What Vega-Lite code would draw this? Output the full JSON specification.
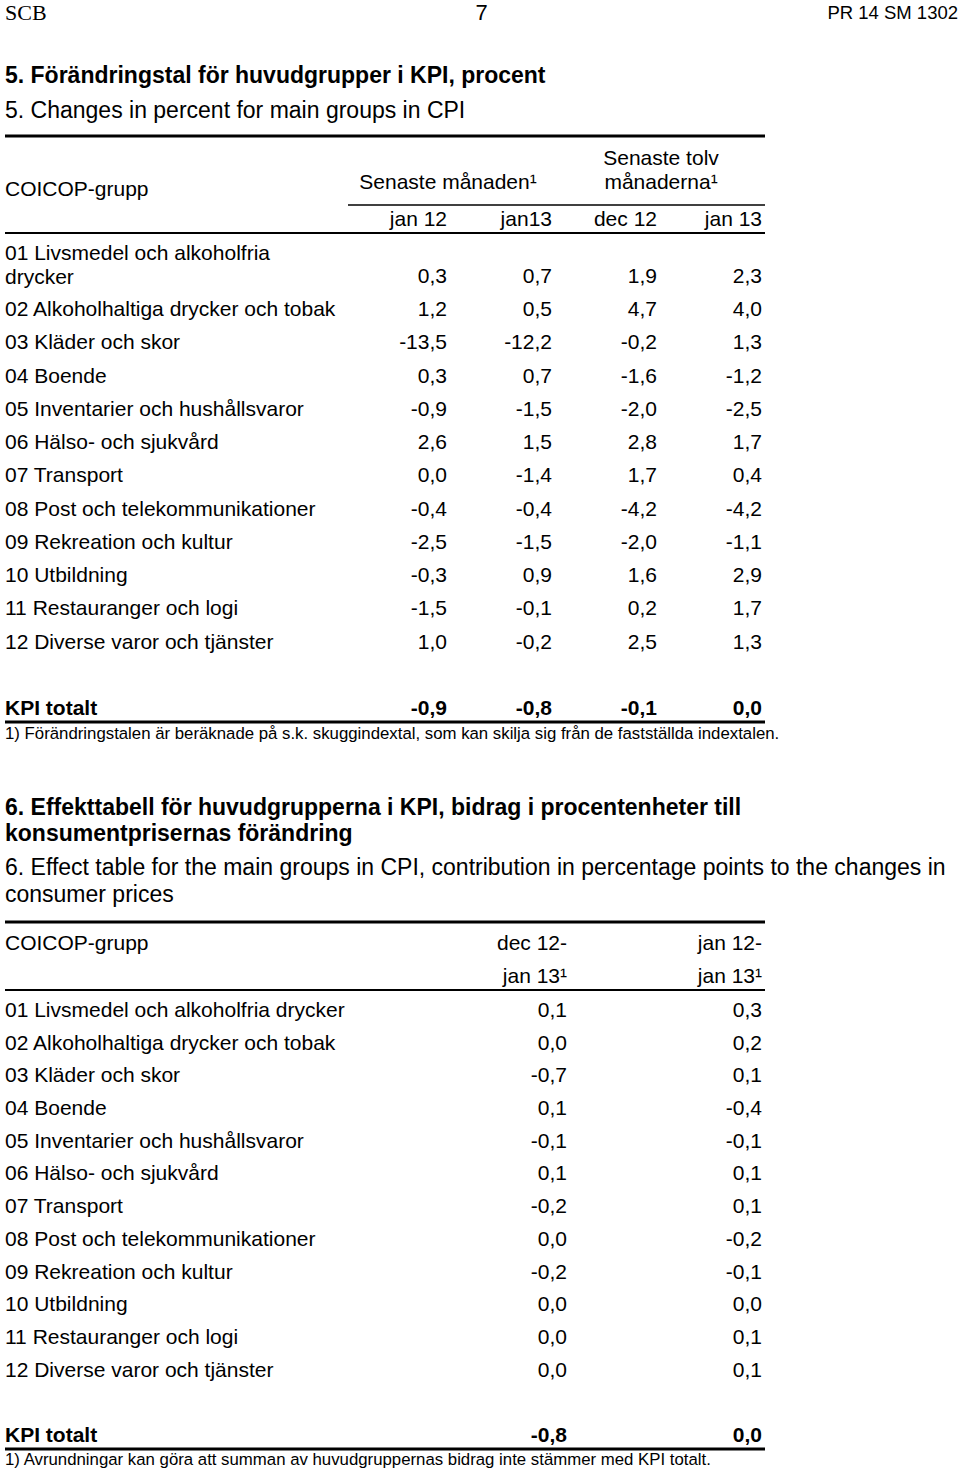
{
  "$schema": "https://vega.github.io/schema/vega-lite/v6.json",
  "width": 960,
  "height": 1474,
  "autosize": {"type": "none"},
  "padding": 0,
  "background": "#ffffff",
  "config": {
    "view": {"stroke": null},
    "locale": {"number": {"decimal": ",", "thousands": " ", "grouping": [3], "currency": ["", ""], "minus": "-"}},
    "text": {"font": "Liberation Sans", "fontSize": 21, "color": "#000000"},
    "rule": {"color": "#000000"}
  },
  "datasets": {
    "sidhuvud": [
      {"pos": "vänster", "text": "SCB"},
      {"pos": "mitt", "text": "7"},
      {"pos": "höger", "text": "PR 14 SM 1302"}
    ],
    "rubriker": [
      {"tabell": "5", "sv": "5. Förändringstal för huvudgrupper i KPI, procent", "en": "5. Changes in percent for main groups in CPI"},
      {"tabell": "6", "sv": "6. Effekttabell för huvudgrupperna i KPI, bidrag i procentenheter till\nkonsumentprisernas förändring", "en": "6. Effect table for the main groups in CPI, contribution in percentage points to the changes in\nconsumer prices"}
    ],
    "linjer": [
      {"linje": "t5 topp"}, {"linje": "t5 rubrikgrupp"}, {"linje": "t5 rubrik"}, {"linje": "t5 botten"},
      {"linje": "t6 topp"}, {"linje": "t6 rubrik"}, {"linje": "t6 botten"}
    ],
    "t5rubrik": [
      {"rad": "1", "kol": "tolv", "text": "Senaste tolv"},
      {"rad": "2", "kol": "tolv", "text": "månaderna¹"},
      {"rad": "2", "kol": "månaden", "text": "Senaste månaden¹"}
    ],
    "t6rubrik": [
      {"rad": "1", "kol": "dec 12-jan 13", "text": "dec 12-"},
      {"rad": "2", "kol": "dec 12-jan 13", "text": "jan 13¹"},
      {"rad": "1", "kol": "jan 12-jan 13", "text": "jan 12-"},
      {"rad": "2", "kol": "jan 12-jan 13", "text": "jan 13¹"}
    ],
    "grupprubrik": [
      {"tabell": "5", "text": "COICOP-grupp"},
      {"tabell": "6", "text": "COICOP-grupp"}
    ],
    "fotnoter": [
      {"tabell": "5", "text": "1) Förändringstalen är beräknade på s.k. skuggindextal, som kan skilja sig från de fastställda indextalen."},
      {"tabell": "6", "text": "1) Avrundningar kan göra att summan av huvudgruppernas bidrag inte stämmer med KPI totalt."}
    ],
    "t5": [
      {"grp": "01 Livsmedel och alkoholfria\ndrycker", "jan 12": 0.3, "jan13": 0.7, "dec 12": 1.9, "jan 13": 2.3},
      {"grp": "02 Alkoholhaltiga drycker och tobak", "jan 12": 1.2, "jan13": 0.5, "dec 12": 4.7, "jan 13": 4.0},
      {"grp": "03 Kläder och skor", "jan 12": -13.5, "jan13": -12.2, "dec 12": -0.2, "jan 13": 1.3},
      {"grp": "04 Boende", "jan 12": 0.3, "jan13": 0.7, "dec 12": -1.6, "jan 13": -1.2},
      {"grp": "05 Inventarier och hushållsvaror", "jan 12": -0.9, "jan13": -1.5, "dec 12": -2.0, "jan 13": -2.5},
      {"grp": "06 Hälso- och sjukvård", "jan 12": 2.6, "jan13": 1.5, "dec 12": 2.8, "jan 13": 1.7},
      {"grp": "07 Transport", "jan 12": 0.0, "jan13": -1.4, "dec 12": 1.7, "jan 13": 0.4},
      {"grp": "08 Post och telekommunikationer", "jan 12": -0.4, "jan13": -0.4, "dec 12": -4.2, "jan 13": -4.2},
      {"grp": "09 Rekreation och kultur", "jan 12": -2.5, "jan13": -1.5, "dec 12": -2.0, "jan 13": -1.1},
      {"grp": "10 Utbildning", "jan 12": -0.3, "jan13": 0.9, "dec 12": 1.6, "jan 13": 2.9},
      {"grp": "11 Restauranger och logi", "jan 12": -1.5, "jan13": -0.1, "dec 12": 0.2, "jan 13": 1.7},
      {"grp": "12 Diverse varor och tjänster", "jan 12": 1.0, "jan13": -0.2, "dec 12": 2.5, "jan 13": 1.3},
      {"grp": "KPI totalt", "jan 12": -0.9, "jan13": -0.8, "dec 12": -0.1, "jan 13": 0.0}
    ],
    "t6": [
      {"grp": "01 Livsmedel och alkoholfria drycker", "dec 12-jan 13": 0.1, "jan 12-jan 13": 0.3},
      {"grp": "02 Alkoholhaltiga drycker och tobak", "dec 12-jan 13": 0.0, "jan 12-jan 13": 0.2},
      {"grp": "03 Kläder och skor", "dec 12-jan 13": -0.7, "jan 12-jan 13": 0.1},
      {"grp": "04 Boende", "dec 12-jan 13": 0.1, "jan 12-jan 13": -0.4},
      {"grp": "05 Inventarier och hushållsvaror", "dec 12-jan 13": -0.1, "jan 12-jan 13": -0.1},
      {"grp": "06 Hälso- och sjukvård", "dec 12-jan 13": 0.1, "jan 12-jan 13": 0.1},
      {"grp": "07 Transport", "dec 12-jan 13": -0.2, "jan 12-jan 13": 0.1},
      {"grp": "08 Post och telekommunikationer", "dec 12-jan 13": 0.0, "jan 12-jan 13": -0.2},
      {"grp": "09 Rekreation och kultur", "dec 12-jan 13": -0.2, "jan 12-jan 13": -0.1},
      {"grp": "10 Utbildning", "dec 12-jan 13": 0.0, "jan 12-jan 13": 0.0},
      {"grp": "11 Restauranger och logi", "dec 12-jan 13": 0.0, "jan 12-jan 13": 0.1},
      {"grp": "12 Diverse varor och tjänster", "dec 12-jan 13": 0.0, "jan 12-jan 13": 0.1},
      {"grp": "KPI totalt", "dec 12-jan 13": -0.8, "jan 12-jan 13": 0.0}
    ]
  },
  "resolve": {"scale": {"x": "independent", "y": "independent"}},
  "layer": [
    {
      "data": {"name": "sidhuvud"},
      "transform": [{"filter": "datum.pos === 'vänster'"}],
      "mark": {"type": "text", "align": "left", "baseline": "middle", "font": "Liberation Serif", "fontSize": 22},
      "encoding": {
        "x": {"field": "pos", "type": "nominal", "scale": {"type": "point", "domain": ["vänster", "mitt", "höger"], "range": [5, 958], "padding": 0}, "axis": null},
        "y": {"datum": "sidhuvud", "type": "nominal", "scale": {"type": "point", "domain": ["sidhuvud"], "range": [13, 13]}, "axis": null},
        "text": {"field": "text"}
      }
    },
    {
      "data": {"name": "sidhuvud"},
      "transform": [{"filter": "datum.pos === 'mitt'"}],
      "mark": {"type": "text", "align": "center", "baseline": "middle", "fontSize": 22},
      "encoding": {
        "x": {"field": "pos", "type": "nominal", "scale": {"type": "point", "domain": ["vänster", "mitt", "höger"], "range": [5, 958], "padding": 0}, "axis": null},
        "y": {"datum": "sidhuvud", "type": "nominal", "scale": {"type": "point", "domain": ["sidhuvud"], "range": [13, 13]}, "axis": null},
        "text": {"field": "text"}
      }
    },
    {
      "data": {"name": "sidhuvud"},
      "transform": [{"filter": "datum.pos === 'höger'"}],
      "mark": {"type": "text", "align": "right", "baseline": "middle", "fontSize": 18.5},
      "encoding": {
        "x": {"field": "pos", "type": "nominal", "scale": {"type": "point", "domain": ["vänster", "mitt", "höger"], "range": [5, 958], "padding": 0}, "axis": null},
        "y": {"datum": "sidhuvud", "type": "nominal", "scale": {"type": "point", "domain": ["sidhuvud"], "range": [13, 13]}, "axis": null},
        "text": {"field": "text"}
      }
    },
    {
      "data": {"name": "rubriker"},
      "mark": {"type": "text", "align": "left", "baseline": "alphabetic", "fontWeight": "bold", "fontSize": 23, "lineBreak": "\n", "lineHeight": 26},
      "encoding": {
        "x": {"datum": "vänsterkant", "type": "nominal", "scale": {"type": "point", "domain": ["vänsterkant"], "range": [5, 5]}, "axis": null},
        "y": {"field": "tabell", "type": "nominal", "scale": {"type": "point", "domain": ["5", "6"], "range": [83, 815], "padding": 0}, "axis": null},
        "text": {"field": "sv"}
      }
    },
    {
      "data": {"name": "rubriker"},
      "mark": {"type": "text", "align": "left", "baseline": "alphabetic", "fontSize": 23, "lineBreak": "\n", "lineHeight": 27},
      "encoding": {
        "x": {"datum": "vänsterkant", "type": "nominal", "scale": {"type": "point", "domain": ["vänsterkant"], "range": [5, 5]}, "axis": null},
        "y": {"field": "tabell", "type": "nominal", "scale": {"type": "point", "domain": ["5", "6"], "range": [118, 875], "padding": 0}, "axis": null},
        "text": {"field": "en"}
      }
    },
    {
      "data": {"name": "linjer"},
      "transform": [{"filter": "datum.linje === 't5 topp' || datum.linje === 't5 botten'"}],
      "mark": {"type": "rule", "strokeWidth": 3},
      "encoding": {
        "x": {"datum": "vänster", "type": "nominal", "scale": {"type": "point", "domain": ["vänster", "höger"], "range": [5, 765], "padding": 0}, "axis": null},
        "x2": {"datum": "höger"},
        "y": {"field": "linje", "type": "nominal", "scale": {"type": "point", "domain": ["t5 topp", "t5 botten"], "range": [136, 722], "padding": 0}, "axis": null}
      }
    },
    {
      "data": {"name": "linjer"},
      "transform": [{"filter": "datum.linje === 't6 topp' || datum.linje === 't6 botten'"}],
      "mark": {"type": "rule", "strokeWidth": 3},
      "encoding": {
        "x": {"datum": "vänster", "type": "nominal", "scale": {"type": "point", "domain": ["vänster", "höger"], "range": [5, 765], "padding": 0}, "axis": null},
        "x2": {"datum": "höger"},
        "y": {"field": "linje", "type": "nominal", "scale": {"type": "point", "domain": ["t6 topp", "t6 botten"], "range": [922, 1449], "padding": 0}, "axis": null}
      }
    },
    {
      "data": {"name": "linjer"},
      "transform": [{"filter": "datum.linje === 't5 rubrik' || datum.linje === 't6 rubrik'"}],
      "mark": {"type": "rule", "strokeWidth": 2},
      "encoding": {
        "x": {"datum": "vänster", "type": "nominal", "scale": {"type": "point", "domain": ["vänster", "höger"], "range": [5, 765], "padding": 0}, "axis": null},
        "x2": {"datum": "höger"},
        "y": {"field": "linje", "type": "nominal", "scale": {"type": "point", "domain": ["t5 rubrik", "t6 rubrik"], "range": [233, 990], "padding": 0}, "axis": null}
      }
    },
    {
      "data": {"name": "linjer"},
      "transform": [{"filter": "datum.linje === 't5 rubrikgrupp'"}],
      "mark": {"type": "rule", "strokeWidth": 1.5},
      "encoding": {
        "x": {"datum": "vänster", "type": "nominal", "scale": {"type": "point", "domain": ["vänster", "höger"], "range": [348, 765], "padding": 0}, "axis": null},
        "x2": {"datum": "höger"},
        "y": {"field": "linje", "type": "nominal", "scale": {"type": "point", "domain": ["t5 rubrikgrupp"], "range": [205, 205]}, "axis": null}
      }
    },
    {
      "data": {"name": "t5rubrik"},
      "mark": {"type": "text", "align": "center", "baseline": "middle"},
      "encoding": {
        "x": {"field": "kol", "type": "nominal", "scale": {"type": "point", "domain": ["månaden", "tolv"], "range": [448, 661], "padding": 0}, "axis": null},
        "y": {"field": "rad", "type": "nominal", "scale": {"type": "point", "domain": ["1", "2"], "range": [159, 183], "padding": 0}, "axis": null},
        "text": {"field": "text"}
      }
    },
    {
      "data": {"name": "grupprubrik"},
      "mark": {"type": "text", "align": "left", "baseline": "middle"},
      "encoding": {
        "x": {"datum": "vänsterkant", "type": "nominal", "scale": {"type": "point", "domain": ["vänsterkant"], "range": [5, 5]}, "axis": null},
        "y": {"field": "tabell", "type": "nominal", "scale": {"type": "point", "domain": ["5", "6"], "range": [190, 944], "padding": 0}, "axis": null},
        "text": {"field": "text"}
      }
    },
    {
      "data": {"name": "t5"},
      "transform": [
        {"fold": ["jan 12", "jan13", "dec 12", "jan 13"], "as": ["per", "val"]},
        {"aggregate": [{"op": "count", "as": "n"}], "groupby": ["per"]}
      ],
      "mark": {"type": "text", "align": "right", "baseline": "middle"},
      "encoding": {
        "x": {"field": "per", "type": "nominal", "scale": {"type": "point", "domain": ["jan 12", "jan13", "dec 12", "jan 13"], "range": [447, 762], "padding": 0}, "axis": null},
        "y": {"datum": "period", "type": "nominal", "scale": {"type": "point", "domain": ["period"], "range": [220, 220]}, "axis": null},
        "text": {"field": "per"}
      }
    },
    {
      "data": {"name": "t5"},
      "transform": [{"filter": "datum.grp !== 'KPI totalt' && indexof(datum.grp, '\\n') < 0"}],
      "mark": {"type": "text", "align": "left", "baseline": "middle"},
      "encoding": {
        "x": {"datum": "vänsterkant", "type": "nominal", "scale": {"type": "point", "domain": ["vänsterkant"], "range": [5, 5]}, "axis": null},
        "y": {"field": "grp", "type": "nominal", "scale": {"type": "point", "domain": ["01 Livsmedel och alkoholfria\ndrycker", "02 Alkoholhaltiga drycker och tobak", "03 Kläder och skor", "04 Boende", "05 Inventarier och hushållsvaror", "06 Hälso- och sjukvård", "07 Transport", "08 Post och telekommunikationer", "09 Rekreation och kultur", "10 Utbildning", "11 Restauranger och logi", "12 Diverse varor och tjänster", " ", "KPI totalt"], "range": [277, 709], "padding": 0}, "axis": null},
        "text": {"field": "grp"}
      }
    },
    {
      "data": {"name": "t5"},
      "transform": [{"filter": "indexof(datum.grp, '\\n') >= 0"}],
      "mark": {"type": "text", "align": "left", "baseline": "alphabetic", "lineBreak": "\n", "lineHeight": 24, "dy": -17},
      "encoding": {
        "x": {"datum": "vänsterkant", "type": "nominal", "scale": {"type": "point", "domain": ["vänsterkant"], "range": [5, 5]}, "axis": null},
        "y": {"field": "grp", "type": "nominal", "scale": {"type": "point", "domain": ["01 Livsmedel och alkoholfria\ndrycker", "02 Alkoholhaltiga drycker och tobak", "03 Kläder och skor", "04 Boende", "05 Inventarier och hushållsvaror", "06 Hälso- och sjukvård", "07 Transport", "08 Post och telekommunikationer", "09 Rekreation och kultur", "10 Utbildning", "11 Restauranger och logi", "12 Diverse varor och tjänster", " ", "KPI totalt"], "range": [277, 709], "padding": 0}, "axis": null},
        "text": {"field": "grp"}
      }
    },
    {
      "data": {"name": "t5"},
      "transform": [
        {"fold": ["jan 12", "jan13", "dec 12", "jan 13"], "as": ["per", "val"]},
        {"filter": "datum.grp !== 'KPI totalt'"}
      ],
      "mark": {"type": "text", "align": "right", "baseline": "middle"},
      "encoding": {
        "x": {"field": "per", "type": "nominal", "scale": {"type": "point", "domain": ["jan 12", "jan13", "dec 12", "jan 13"], "range": [447, 762], "padding": 0}, "axis": null},
        "y": {"field": "grp", "type": "nominal", "scale": {"type": "point", "domain": ["01 Livsmedel och alkoholfria\ndrycker", "02 Alkoholhaltiga drycker och tobak", "03 Kläder och skor", "04 Boende", "05 Inventarier och hushållsvaror", "06 Hälso- och sjukvård", "07 Transport", "08 Post och telekommunikationer", "09 Rekreation och kultur", "10 Utbildning", "11 Restauranger och logi", "12 Diverse varor och tjänster", " ", "KPI totalt"], "range": [277, 709], "padding": 0}, "axis": null},
        "text": {"field": "val", "type": "quantitative", "format": ".1f"}
      }
    },
    {
      "data": {"name": "t5"},
      "transform": [{"filter": "datum.grp === 'KPI totalt'"}],
      "mark": {"type": "text", "align": "left", "baseline": "middle", "fontWeight": "bold"},
      "encoding": {
        "x": {"datum": "vänsterkant", "type": "nominal", "scale": {"type": "point", "domain": ["vänsterkant"], "range": [5, 5]}, "axis": null},
        "y": {"field": "grp", "type": "nominal", "scale": {"type": "point", "domain": ["01 Livsmedel och alkoholfria\ndrycker", "02 Alkoholhaltiga drycker och tobak", "03 Kläder och skor", "04 Boende", "05 Inventarier och hushållsvaror", "06 Hälso- och sjukvård", "07 Transport", "08 Post och telekommunikationer", "09 Rekreation och kultur", "10 Utbildning", "11 Restauranger och logi", "12 Diverse varor och tjänster", " ", "KPI totalt"], "range": [277, 709], "padding": 0}, "axis": null},
        "text": {"field": "grp"}
      }
    },
    {
      "data": {"name": "t5"},
      "transform": [
        {"fold": ["jan 12", "jan13", "dec 12", "jan 13"], "as": ["per", "val"]},
        {"filter": "datum.grp === 'KPI totalt'"}
      ],
      "mark": {"type": "text", "align": "right", "baseline": "middle", "fontWeight": "bold"},
      "encoding": {
        "x": {"field": "per", "type": "nominal", "scale": {"type": "point", "domain": ["jan 12", "jan13", "dec 12", "jan 13"], "range": [447, 762], "padding": 0}, "axis": null},
        "y": {"field": "grp", "type": "nominal", "scale": {"type": "point", "domain": ["01 Livsmedel och alkoholfria\ndrycker", "02 Alkoholhaltiga drycker och tobak", "03 Kläder och skor", "04 Boende", "05 Inventarier och hushållsvaror", "06 Hälso- och sjukvård", "07 Transport", "08 Post och telekommunikationer", "09 Rekreation och kultur", "10 Utbildning", "11 Restauranger och logi", "12 Diverse varor och tjänster", " ", "KPI totalt"], "range": [277, 709], "padding": 0}, "axis": null},
        "text": {"field": "val", "type": "quantitative", "format": ".1f"}
      }
    },
    {
      "data": {"name": "fotnoter"},
      "mark": {"type": "text", "align": "left", "baseline": "middle", "fontSize": 16.8},
      "encoding": {
        "x": {"datum": "vänsterkant", "type": "nominal", "scale": {"type": "point", "domain": ["vänsterkant"], "range": [5, 5]}, "axis": null},
        "y": {"field": "tabell", "type": "nominal", "scale": {"type": "point", "domain": ["5", "6"], "range": [734, 1460], "padding": 0}, "axis": null},
        "text": {"field": "text"}
      }
    },
    {
      "data": {"name": "t6rubrik"},
      "mark": {"type": "text", "align": "right", "baseline": "middle"},
      "encoding": {
        "x": {"field": "kol", "type": "nominal", "scale": {"type": "point", "domain": ["dec 12-jan 13", "jan 12-jan 13"], "range": [567, 762], "padding": 0}, "axis": null},
        "y": {"field": "rad", "type": "nominal", "scale": {"type": "point", "domain": ["1", "2"], "range": [944, 977], "padding": 0}, "axis": null},
        "text": {"field": "text"}
      }
    },
    {
      "data": {"name": "t6"},
      "transform": [{"filter": "datum.grp !== 'KPI totalt'"}],
      "mark": {"type": "text", "align": "left", "baseline": "middle"},
      "encoding": {
        "x": {"datum": "vänsterkant", "type": "nominal", "scale": {"type": "point", "domain": ["vänsterkant"], "range": [5, 5]}, "axis": null},
        "y": {"field": "grp", "type": "nominal", "scale": {"type": "point", "domain": ["01 Livsmedel och alkoholfria drycker", "02 Alkoholhaltiga drycker och tobak", "03 Kläder och skor", "04 Boende", "05 Inventarier och hushållsvaror", "06 Hälso- och sjukvård", "07 Transport", "08 Post och telekommunikationer", "09 Rekreation och kultur", "10 Utbildning", "11 Restauranger och logi", "12 Diverse varor och tjänster", " ", "KPI totalt"], "range": [1011, 1436], "padding": 0}, "axis": null},
        "text": {"field": "grp"}
      }
    },
    {
      "data": {"name": "t6"},
      "transform": [
        {"fold": ["dec 12-jan 13", "jan 12-jan 13"], "as": ["per", "val"]},
        {"filter": "datum.grp !== 'KPI totalt'"}
      ],
      "mark": {"type": "text", "align": "right", "baseline": "middle"},
      "encoding": {
        "x": {"field": "per", "type": "nominal", "scale": {"type": "point", "domain": ["dec 12-jan 13", "jan 12-jan 13"], "range": [567, 762], "padding": 0}, "axis": null},
        "y": {"field": "grp", "type": "nominal", "scale": {"type": "point", "domain": ["01 Livsmedel och alkoholfria drycker", "02 Alkoholhaltiga drycker och tobak", "03 Kläder och skor", "04 Boende", "05 Inventarier och hushållsvaror", "06 Hälso- och sjukvård", "07 Transport", "08 Post och telekommunikationer", "09 Rekreation och kultur", "10 Utbildning", "11 Restauranger och logi", "12 Diverse varor och tjänster", " ", "KPI totalt"], "range": [1011, 1436], "padding": 0}, "axis": null},
        "text": {"field": "val", "type": "quantitative", "format": ".1f"}
      }
    },
    {
      "data": {"name": "t6"},
      "transform": [{"filter": "datum.grp === 'KPI totalt'"}],
      "mark": {"type": "text", "align": "left", "baseline": "middle", "fontWeight": "bold"},
      "encoding": {
        "x": {"datum": "vänsterkant", "type": "nominal", "scale": {"type": "point", "domain": ["vänsterkant"], "range": [5, 5]}, "axis": null},
        "y": {"field": "grp", "type": "nominal", "scale": {"type": "point", "domain": ["01 Livsmedel och alkoholfria drycker", "02 Alkoholhaltiga drycker och tobak", "03 Kläder och skor", "04 Boende", "05 Inventarier och hushållsvaror", "06 Hälso- och sjukvård", "07 Transport", "08 Post och telekommunikationer", "09 Rekreation och kultur", "10 Utbildning", "11 Restauranger och logi", "12 Diverse varor och tjänster", " ", "KPI totalt"], "range": [1011, 1436], "padding": 0}, "axis": null},
        "text": {"field": "grp"}
      }
    },
    {
      "data": {"name": "t6"},
      "transform": [
        {"fold": ["dec 12-jan 13", "jan 12-jan 13"], "as": ["per", "val"]},
        {"filter": "datum.grp === 'KPI totalt'"}
      ],
      "mark": {"type": "text", "align": "right", "baseline": "middle", "fontWeight": "bold"},
      "encoding": {
        "x": {"field": "per", "type": "nominal", "scale": {"type": "point", "domain": ["dec 12-jan 13", "jan 12-jan 13"], "range": [567, 762], "padding": 0}, "axis": null},
        "y": {"field": "grp", "type": "nominal", "scale": {"type": "point", "domain": ["01 Livsmedel och alkoholfria drycker", "02 Alkoholhaltiga drycker och tobak", "03 Kläder och skor", "04 Boende", "05 Inventarier och hushållsvaror", "06 Hälso- och sjukvård", "07 Transport", "08 Post och telekommunikationer", "09 Rekreation och kultur", "10 Utbildning", "11 Restauranger och logi", "12 Diverse varor och tjänster", " ", "KPI totalt"], "range": [1011, 1436], "padding": 0}, "axis": null},
        "text": {"field": "val", "type": "quantitative", "format": ".1f"}
      }
    }
  ]
}
